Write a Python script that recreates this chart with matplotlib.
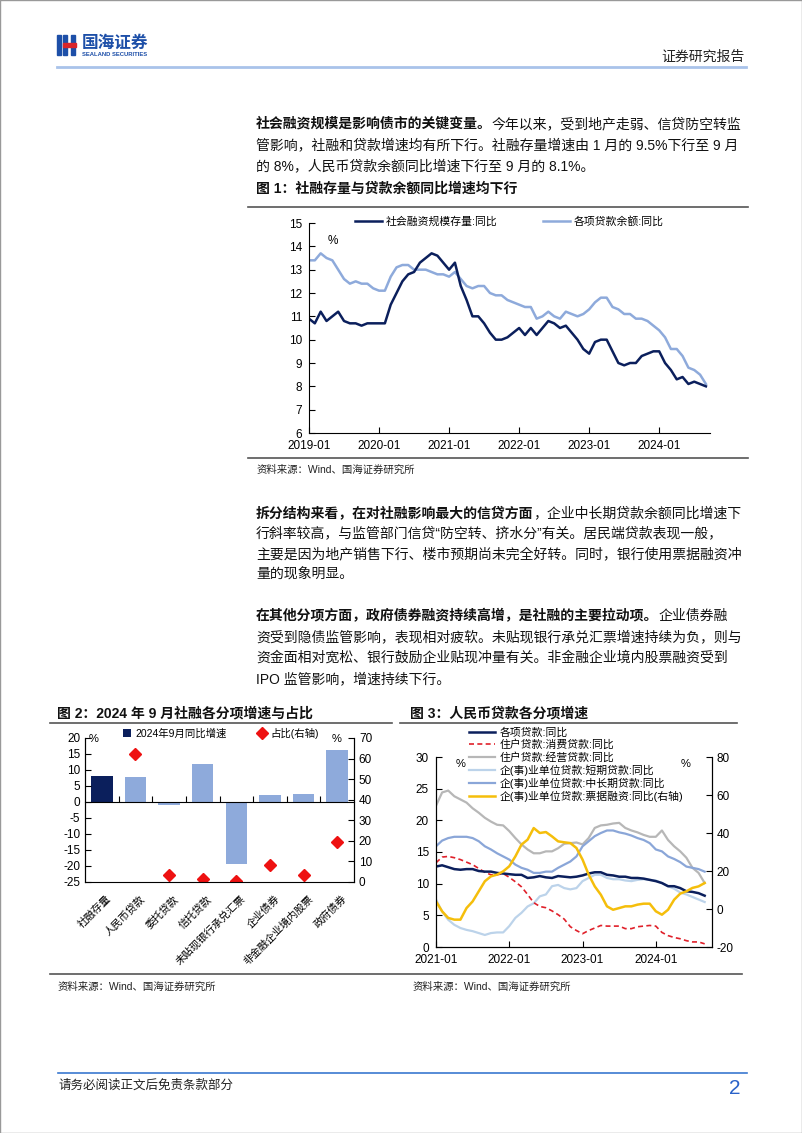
import numpy as np
import matplotlib
matplotlib.use("Agg")
import matplotlib.pyplot as plt
from matplotlib.patches import Rectangle
from matplotlib.lines import Line2D

plt.rcParams['font.family'] = ['Liberation Sans', 'Noto Sans CJK SC', 'DejaVu Sans']
plt.rcParams['axes.unicode_minus'] = False

W, H = 802, 1133

# ---- data: figure 1 (monthly, 2019-01 .. 2024-09) ----
tsf_yoy = [10.9, 10.7, 11.2, 10.8, 11.0, 11.2, 10.8, 10.7, 10.7, 10.6, 10.7, 10.7,
           10.7, 10.7, 11.5, 12.0, 12.5, 12.8, 12.9, 13.3, 13.5, 13.7, 13.6, 13.3,
           13.0, 13.3, 12.3, 11.7, 11.0, 11.0, 10.7, 10.3, 10.0, 10.0, 10.1, 10.3,
           10.5, 10.2, 10.5, 10.2, 10.5, 10.8, 10.7, 10.5, 10.6, 10.3, 10.0, 9.6,
           9.4, 9.9, 10.0, 10.0, 9.5, 9.0, 8.9, 9.0, 9.0, 9.3, 9.4, 9.5,
           9.5, 9.0, 8.7, 8.3, 8.4, 8.1, 8.2, 8.1, 8.0]
loan_yoy = [13.4, 13.4, 13.7, 13.5, 13.4, 13.0, 12.6, 12.4, 12.5, 12.4, 12.4, 12.2,
            12.1, 12.1, 12.7, 13.1, 13.2, 13.2, 13.0, 13.0, 13.0, 12.9, 12.8, 12.8,
            12.7, 12.9, 12.6, 12.3, 12.2, 12.3, 12.3, 12.0, 11.9, 11.9, 11.7, 11.6,
            11.5, 11.4, 11.4, 10.9, 11.0, 11.2, 11.0, 10.9, 11.2, 11.1, 11.0, 11.1,
            11.3, 11.6, 11.8, 11.8, 11.4, 11.3, 11.1, 11.1, 10.9, 10.9, 10.8, 10.6,
            10.4, 10.1, 9.6, 9.6, 9.3, 8.8, 8.7, 8.5, 8.1]
years1 = ['2019-01', '2020-01', '2021-01', '2022-01', '2023-01', '2024-01']

# ---- data: figure 2 ----
categories = ['社融存量', '人民币贷款', '委托贷款', '信托贷款', '未贴现银行承兑汇票',
              '企业债券', '非金融企业境内股票', '政府债券']
growth = [8.0, 7.8, -0.8, 11.8, -19.5, 2.1, 2.6, 16.4]
share = [np.nan, 62.3, 3.3, 1.3, 0.7, 8.1, 3.3, 19.5]

# ---- data: figure 3 (monthly, 2021-01 .. 2024-09) ----
loans_total = loan_yoy[24:]
consumer = [13.3, 14.2, 14.3, 14.1, 13.8, 13.4, 13.0, 12.4, 11.8, 11.4, 11.4, 11.6,
            11.0, 10.3, 9.5, 8.3, 7.0, 6.4, 6.2, 5.7, 5.1, 4.4, 3.2, 2.6,
            2.1, 2.6, 3.0, 3.4, 3.3, 3.3, 3.3, 2.9, 2.9, 3.2, 3.3, 3.4,
            3.3, 2.3, 1.8, 1.5, 1.3, 1.0, 0.8, 0.8, 0.5]
business = [22.3, 24.4, 24.7, 23.8, 23.3, 22.8, 21.9, 21.2, 20.4, 19.8, 19.3, 19.2,
            18.3, 17.2, 16.2, 15.4, 14.8, 14.8, 15.1, 15.1, 15.6, 16.3, 16.4, 16.5,
            16.2, 17.2, 18.8, 19.2, 19.3, 19.5, 19.6, 18.8, 18.4, 18.1, 17.7, 17.4,
            17.4, 18.4, 16.9, 15.9, 15.1, 14.1, 12.5, 11.7, 10.1]
short_term = [7.5, 5.6, 4.3, 3.5, 3.0, 2.7, 2.5, 2.2, 1.9, 2.2, 2.3, 2.3,
              3.3, 4.6, 5.4, 6.4, 6.9, 8.0, 8.3, 9.6, 9.8, 9.3, 9.1, 9.3,
              10.4, 10.9, 11.4, 11.4, 10.9, 10.7, 10.7, 10.5, 10.4, 10.6, 10.7, 10.6,
              10.5, 10.1, 9.6, 9.2, 8.6, 8.3, 7.9, 7.5, 7.1]
mid_long = [15.9, 16.8, 17.2, 17.4, 17.4, 17.4, 17.2, 16.7, 15.9, 15.4, 14.8, 14.3,
            13.8, 13.0, 12.5, 12.2, 11.7, 11.7, 11.9, 11.9, 12.5, 13.0, 13.5, 14.3,
            15.9, 16.7, 17.5, 18.0, 18.4, 18.4, 18.1, 17.9, 17.6, 17.2, 16.9, 16.4,
            15.4, 15.1, 14.3, 13.9, 13.4, 12.7, 12.5, 12.3, 11.9]
bills = [4.0, -1.2, -4.7, -5.6, -5.6, 0.5, 4.0, 9.3, 14.6, 17.2, 18.1, 19.8,
         22.5, 27.7, 33.9, 36.5, 42.6, 40.0, 40.5, 38.2, 35.6, 35.1, 34.7, 32.1,
         26.0, 18.1, 11.9, 7.5, 1.4, -0.4, 0.5, 1.4, 1.4, 2.3, 2.8, 2.8,
         -1.2, -3.0, -0.4, 4.9, 8.1, 9.3, 11.1, 11.9, 13.7]
years3 = ['2021-01', '2022-01', '2023-01', '2024-01']

NAVY = '#0b1f5c'
LIGHT = '#8eaadb'

fig = plt.figure(figsize=(W / 100, H / 100), dpi=100)
renderer = fig.canvas.get_renderer()


def fx(x):
    return x / W


def fy(y):
    return 1 - y / H


def hline(x0, x1, y, color='#555555', lw=1.2):
    fig.add_artist(Line2D([fx(x0), fx(x1)], [fy(y), fy(y)], color=color, lw=lw))


def line_text(x, y, parts, size=10):
    for txt, bold in parts:
        t = fig.text(fx(x), fy(y), txt, fontsize=size, va='center', ha='left',
                     fontweight='bold' if bold else 'normal', color='#111111')
        x += t.get_window_extent(renderer).width


# page border + header
fig.add_artist(Rectangle((0, 0), 1, 1, transform=fig.transFigure, fill=False,
                         edgecolor='#999999', lw=1))
for x0, w in [(57, 4), (63, 4), (71, 4)]:
    fig.add_artist(Rectangle((fx(x0), fy(55)), w / W, 20 / H, transform=fig.transFigure,
                             color='#1d4fa8'))
fig.add_artist(Rectangle((fx(63), fy(47)), 13 / W, 4 / H, transform=fig.transFigure,
                         color='#d9252a'))
fig.text(fx(82), fy(43), '国海证券', fontsize=12, fontweight='bold', color='#1d4fa8',
         va='center', ha='left')
fig.text(fx(82), fy(54), 'SEALAND SECURITIES', fontsize=4.2, fontweight='bold',
         color='#1d4fa8', va='center', ha='left')
fig.text(fx(745), fy(57), '证券研究报告', fontsize=10, va='center', ha='right', color='#222222')
hline(57, 746, 67, color='#a9c3ea', lw=2)

# paragraph 1
line_text(256, 124, [('社会融资规模是影响债市的关键变量。', True),
                     ('今年以来，受到地产走弱、信贷防空转监', False)])
line_text(256, 145, [('管影响，社融和贷款增速均有所下行。社融存量增速由 1 月的 9.5%下行至 9 月', False)])
line_text(256, 166, [('的 8%，人民币贷款余额同比增速下行至 9 月的 8.1%。', False)])

# figure 1 title
line_text(256, 189, [('图 1：社融存量与贷款余额同比增速均下行', True)])
hline(248, 748, 207)

ax1 = fig.add_axes([fx(309), fy(433), 401 / W, 210 / H])
x1 = np.arange(len(tsf_yoy))
ax1.plot(x1, loan_yoy, color=LIGHT, lw=1.8, label='各项贷款余额:同比')
ax1.plot(x1, tsf_yoy, color=NAVY, lw=1.8, label='社会融资规模存量:同比')
ax1.set_xlim(0, 68.7)
ax1.set_ylim(6, 15)
ax1.set_yticks(range(6, 16))
ax1.set_xticks(range(0, 72, 12))
ax1.set_xticklabels(years1)
for s in ['top', 'right']:
    ax1.spines[s].set_visible(False)
ax1.tick_params(direction='in', labelsize=8.5, length=4, pad=5)
ax1.text(0.06, 0.915, '%', transform=ax1.transAxes, fontsize=8.5, ha='center', va='center')
h, l = ax1.get_legend_handles_labels()
ax1.legend(h[::-1], l[::-1], ncol=2, frameon=False, fontsize=7.8, handlelength=2.5,
           columnspacing=4.2, handletextpad=0.35, loc='center',
           bbox_to_anchor=(fx(509), fy(221)), bbox_transform=fig.transFigure)
hline(248, 748, 458)
fig.text(fx(257), fy(470), '资料来源：Wind、国海证券研究所', fontsize=7.5, va='center',
         ha='left', color='#222222')

# paragraph 2
line_text(256, 513, [('拆分结构来看，在对社融影响最大的信贷方面', True),
                     ('，企业中长期贷款余额同比增速下', False)])
line_text(256, 533, [('行斜率较高，与监管部门信贷“防空转、挤水分”有关。居民端贷款表现一般，', False)])
line_text(256, 554, [('主要是因为地产销售下行、楼市预期尚未完全好转。同时，银行使用票据融资冲', False)])
line_text(256, 575, [('量的现象明显。', False)])

# paragraph 3
line_text(256, 616, [('在其他分项方面，政府债券融资持续高增，是社融的主要拉动项。', True),
                     ('企业债券融', False)])
line_text(256, 637, [('资受到隐债监管影响，表现相对疲软。未贴现银行承兑汇票增速持续为负，则与', False)])
line_text(256, 658, [('资金面相对宽松、银行鼓励企业贴现冲量有关。非金融企业境内股票融资受到', False)])
line_text(256, 679, [('IPO 监管影响，增速持续下行。', False)])

# figure 2
line_text(57, 713, [('图 2：2024 年 9 月社融各分项增速与占比', True)])
hline(50, 392, 723)
ax2 = fig.add_axes([fx(85), fy(882), 269 / W, 144 / H])
x2 = np.arange(len(categories))
bar_colors = [NAVY] + [LIGHT] * (len(categories) - 1)
bars = ax2.bar(x2, growth, width=0.64, color=bar_colors, label='2024年9月同比增速')
ax2.set_xlim(-0.5, len(categories) - 0.5)
ax2.set_ylim(-25, 20)
ax2.set_yticks(range(-25, 25, 5))
ax2.spines['bottom'].set_position(('data', 0))
ax2.spines['top'].set_visible(False)
ax2.set_xticks(x2[:-1] + 0.5)
ax2.set_xticklabels([])
ax2.tick_params(axis='x', direction='in', length=4)
ax2.tick_params(axis='y', direction='in', length=4, labelsize=8.5)
ax2r = ax2.twinx()
ax2r.plot(x2, share, 'D', color='#ee1111', markersize=6, label='占比(右轴)')
ax2r.set_ylim(0, 70)
ax2r.set_yticks(range(0, 80, 10))
ax2r.spines['top'].set_visible(False)
ax2r.tick_params(direction='in', length=4, labelsize=8.5)
for i, c in enumerate(categories):
    ax2.text(i + 0.12, -0.08, c, transform=ax2.get_xaxis_transform(), rotation=45,
             rotation_mode='anchor', ha='right', va='top', fontsize=7.5)
ax2.text(0.03, 0.99, '%', transform=ax2.transAxes, fontsize=8, ha='center', va='center')
ax2.text(0.935, 0.99, '%', transform=ax2.transAxes, fontsize=8, ha='center', va='center')
fig.legend([bars, ax2r.lines[0]], ['2024年9月同比增速', '占比(右轴)'], ncol=2,
           frameon=False, fontsize=7.5, loc='center', handlelength=0.8, handleheight=0.8,
           columnspacing=3.0, handletextpad=0.4,
           bbox_to_anchor=(fx(221), fy(733)))

# figure 3
line_text(410, 713, [('图 3：人民币贷款各分项增速', True)])
hline(400, 737, 723)
ax3 = fig.add_axes([fx(436), fy(947), 276 / W, 190 / H])
x3 = np.arange(len(consumer))
l1, = ax3.plot(x3, business, color='#b7b7b7', lw=1.6)
l2, = ax3.plot(x3, short_term, color='#bcd3ea', lw=1.6)
l3, = ax3.plot(x3, mid_long, color='#8aa6d8', lw=1.6)
l4, = ax3.plot(x3, consumer, color='#e0202a', lw=1.2, ls=(0, (3, 2)))
l5, = ax3.plot(x3, loans_total, color=NAVY, lw=1.8)
ax3.set_xlim(0, 45.2)
ax3.set_ylim(0, 30)
ax3.set_yticks(range(0, 35, 5))
ax3.set_xticks(range(0, 48, 12))
ax3.set_xticklabels(years3)
ax3.spines['top'].set_visible(False)
ax3.tick_params(direction='in', length=4, labelsize=8.5, pad=5)
ax3r = ax3.twinx()
l6, = ax3r.plot(x3, bills, color='#f5be0b', lw=1.8)
ax3r.set_ylim(-20, 80)
ax3r.set_yticks(range(-20, 100, 20))
ax3r.spines['top'].set_visible(False)
ax3r.tick_params(direction='in', length=4, labelsize=8.5)
ax3.text(0.09, 0.965, '%', transform=ax3.transAxes, fontsize=8, ha='center', va='center')
ax3.text(0.905, 0.965, '%', transform=ax3.transAxes, fontsize=8, ha='center', va='center')
fig.legend([l5, l4, l1, l2, l3, l6],
           ['各项贷款:同比', '住户贷款:消费贷款:同比', '住户贷款:经营贷款:同比',
            '企(事)业单位贷款:短期贷款:同比', '企(事)业单位贷款:中长期贷款:同比',
            '企(事)业单位贷款:票据融资:同比(右轴)'],
           ncol=1, frameon=False, fontsize=7.8, loc='upper left', handlelength=2.4,
           handletextpad=0.4, labelspacing=0.17, borderaxespad=0, borderpad=0,
           bbox_to_anchor=(fx(469), fy(727)))

hline(50, 742, 974)
fig.text(fx(58), fy(987), '资料来源：Wind、国海证券研究所', fontsize=7.5, va='center',
         ha='left', color='#222222')
fig.text(fx(413), fy(987), '资料来源：Wind、国海证券研究所', fontsize=7.5, va='center',
         ha='left', color='#222222')

# footer
hline(58, 747, 1073, color='#3a78d0', lw=1.2)
fig.text(fx(58), fy(1086), '请务必阅读正文后免责条款部分', fontsize=9, va='center',
         ha='left', color='#222222')
fig.text(fx(741), fy(1088), '2', fontsize=15, va='center', ha='right', color='#2a62c9')

fig.savefig('out.png', dpi=100)
